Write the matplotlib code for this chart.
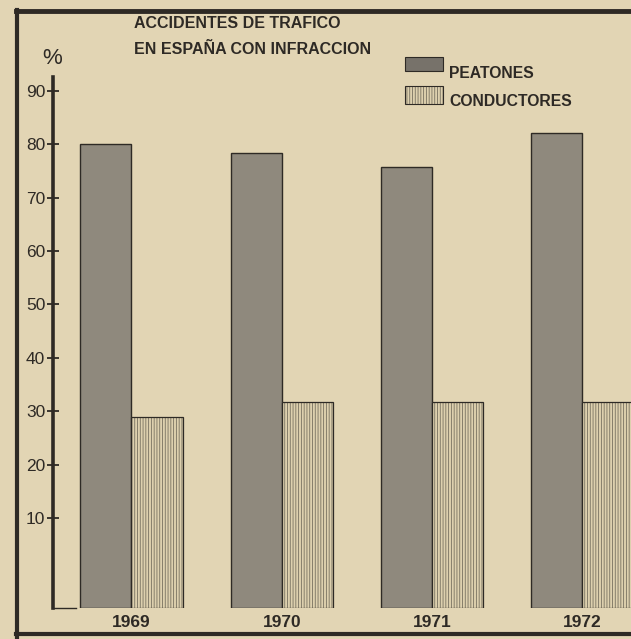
import matplotlib
matplotlib.use("Agg")
import matplotlib.pyplot as plt
from matplotlib.patches import Rectangle
from matplotlib.lines import Line2D
import numpy as np

years = ["1969", "1970", "1971", "1972"]
peatones = [80.0, 78.3, 75.7, 82.1]
conductores = [28.9, 31.7, 31.7, 31.7]
yticks = [10, 20, 30, 40, 50, 60, 70, 80, 90]
title_lines = ["ACCIDENTES DE TRAFICO", "EN ESPAÑA CON INFRACCION"]
legend_labels = ["PEATONES", "CONDUCTORES"]

W, H = 631, 639
PAPER = "#e2d5b4"
DARK = "#2e2a25"
PEAT_FC = "#8f897d"
COND_FC = "#ddd0ae"
COND_HATCH = "#77705f"

plt.rcParams['font.family'] = ['Liberation Sans', 'DejaVu Sans']
plt.rcParams['hatch.linewidth'] = 0.6

fig = plt.figure(figsize=(W / 100, H / 100), dpi=100, facecolor=PAPER)

def fx(px):
    return px / W

def fy(py):
    return 1 - py / H

# axes area in pixels
left_px, right_px, top_px, bot_px = 53, 631, 77, 608
ax = fig.add_axes([fx(left_px), fy(bot_px), fx(right_px) - fx(left_px), fy(top_px) - fy(bot_px)])
ax.set_facecolor("none")

YMIN, YMAX = -6.85, 92.6
XMIN, XMAX = -0.522, 3.323
ax.set_xlim(XMIN, XMAX)
ax.set_ylim(YMIN, YMAX)

x = np.arange(len(years))
w = 0.34
ax.bar(x - w / 2, np.array(peatones) - YMIN, w, bottom=YMIN, color=PEAT_FC,
       edgecolor=DARK, linewidth=1.0, zorder=2)
ax.bar(x + w / 2, np.array(conductores) - YMIN, w, bottom=YMIN, color=COND_FC,
       edgecolor=COND_HATCH, hatch="||||||", linewidth=0, zorder=2)
ax.bar(x + w / 2, np.array(conductores) - YMIN, w, bottom=YMIN, fill=False,
       edgecolor=DARK, linewidth=0.9, zorder=3)

for s in ["top", "right", "bottom"]:
    ax.spines[s].set_visible(False)
ax.spines["left"].set_linewidth(2.6)
ax.spines["left"].set_color(DARK)
ax.axhline(YMIN, xmin=0, xmax=0.04, color=DARK, lw=1.0, clip_on=False)

ax.set_yticks(yticks)
ax.set_yticklabels([str(t) for t in yticks], fontsize=12.5, color=DARK)
ax.tick_params(axis="y", direction="inout", length=9, width=1.3, color=DARK, pad=1)

ax.set_xticks(x)
ax.set_xticklabels(years, fontsize=12.5, fontweight="bold", color=DARK)
ax.tick_params(axis="x", length=0, pad=5)

# % label
fig.text(fx(52), fy(59), "%", fontsize=16, color=DARK, ha="center", va="center")

# title
fig.text(fx(134), fy(24), title_lines[0], fontsize=11.5, fontweight="bold", color=DARK, ha="left", va="center")
fig.text(fx(134), fy(49.5), title_lines[1], fontsize=11.5, fontweight="bold", color=DARK, ha="left", va="center")

# legend
lx0, lx1 = 405, 443
fig.add_artist(Rectangle((fx(lx0), fy(71)), fx(lx1) - fx(lx0), fy(57) - fy(71),
                         transform=fig.transFigure, facecolor="#77726a", edgecolor=DARK, lw=0.8))
fig.add_artist(Rectangle((fx(lx0), fy(104)), fx(lx1) - fx(lx0), fy(86) - fy(104),
                         transform=fig.transFigure, facecolor=COND_FC, edgecolor=COND_HATCH,
                         hatch="||||||", lw=0))
fig.add_artist(Rectangle((fx(lx0), fy(104)), fx(lx1) - fx(lx0), fy(86) - fy(104),
                         transform=fig.transFigure, fill=False, edgecolor=DARK, lw=0.8))
fig.text(fx(449), fy(73), legend_labels[0], fontsize=11.3, fontweight="bold", color=DARK, ha="left", va="center")
fig.text(fx(449), fy(101), legend_labels[1], fontsize=11.3, fontweight="bold", color=DARK, ha="left", va="center")

# frame lines
fig.add_artist(Line2D([fx(16), 1.0], [fy(11), fy(11)], transform=fig.transFigure, color=DARK, lw=3.5))
fig.add_artist(Line2D([fx(17), fx(17)], [fy(10), 0.0], transform=fig.transFigure, color=DARK, lw=3))
fig.add_artist(Line2D([fx(16), 1.0], [fy(634), fy(634)], transform=fig.transFigure, color=DARK, lw=3))

fig.savefig("out.png", dpi=100, facecolor=PAPER)
